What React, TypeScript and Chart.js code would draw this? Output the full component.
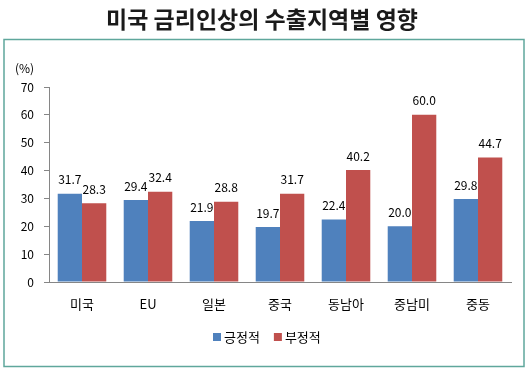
import React, { useEffect, useRef } from "react";
import { Chart, registerables } from "chart.js";

Chart.register(...registerables);

const title = "미국 금리인상의 수출지역별 영향";
const categories = ["미국", "EU", "일본", "중국", "동남아", "중남미", "중동"];
const positive = [31.7, 29.4, 21.9, 19.7, 22.4, 20.0, 29.8];
const negative = [28.3, 32.4, 28.8, 31.7, 40.2, 60.0, 44.7];
const seriesNames = ["긍정적", "부정적"];
const yTicks = [0, 10, 20, 30, 40, 50, 60, 70];
const unitLabel = "(%)";

const FONT = '"Noto Sans CJK KR", "Noto Sans", sans-serif';

const decorPlugin = {
  id: "decor",
  beforeDraw(chart: any) {
    const ctx = chart.ctx;
    ctx.save();
    ctx.fillStyle = "#ffffff";
    ctx.fillRect(0, 0, chart.width, chart.height);
    ctx.strokeStyle = "#5fa79c";
    ctx.lineWidth = 1.5;
    ctx.strokeRect(4, 39.5, 520, 327);
    ctx.fillStyle = "#1a1a1a";
    ctx.font = `bold 23px ${FONT}`;
    ctx.textAlign = "center";
    ctx.textBaseline = "middle";
    ctx.fillText(title, 262, 19);
    ctx.fillStyle = "#000000";
    ctx.font = `12px ${FONT}`;
    ctx.textAlign = "left";
    ctx.fillText(unitLabel, 15, 68);
    ctx.restore();
  },
  afterDraw(chart: any) {
    // legend
    const ctx = chart.ctx;
    ctx.save();
    ctx.font = `13px ${FONT}`;
    ctx.textAlign = "left";
    ctx.textBaseline = "middle";
    let x = 213;
    const y = 337;
    chart.data.datasets.forEach((ds: any) => {
      ctx.fillStyle = ds.backgroundColor;
      ctx.fillRect(x, y - 4, 8, 8);
      ctx.fillStyle = "#000000";
      ctx.fillText(ds.label, x + 11, y);
      x += 11 + ctx.measureText(ds.label).width + 14;
    });
    ctx.restore();
  },
  afterDatasetsDraw(chart: any) {
    const ctx = chart.ctx;
    ctx.save();
    ctx.fillStyle = "#000000";
    ctx.font = `12px ${FONT}`;
    ctx.textAlign = "center";
    ctx.textBaseline = "bottom";
    chart.data.datasets.forEach((ds: any, i: number) => {
      const meta = chart.getDatasetMeta(i);
      meta.data.forEach((bar: any, j: number) => {
        ctx.fillText(Number(ds.data[j]).toFixed(1), bar.x, bar.y - 8);
      });
    });
    ctx.restore();
  },
};

export default function App() {
  const ref = useRef<HTMLCanvasElement | null>(null);
  useEffect(() => {
    document.body.style.margin = "0";
    const canvas = ref.current!;
    const chart = new Chart(canvas, {
      type: "bar",
      data: {
        labels: categories,
        datasets: [
          { label: seriesNames[0], data: positive, backgroundColor: "#4f81bd" },
          { label: seriesNames[1], data: negative, backgroundColor: "#c0504d" },
        ],
      },
      options: {
        animation: false,
        responsive: false,
        devicePixelRatio: 1,
        layout: { padding: { top: 87, right: 16, left: 0, bottom: 54 } },
        datasets: { bar: { barPercentage: 1, categoryPercentage: 0.736 } },
        plugins: {
          legend: { display: false },
          tooltip: { enabled: false },
        },
        scales: {
          x: {
            grid: { display: false, drawTicks: false },
            border: { display: true, color: "#868686", width: 1 },
            ticks: { color: "#000", font: { family: FONT, size: 13 }, padding: 14 },
            afterFit: (s: any) => { s.height = 33; },
          },
          y: {
            min: 0,
            max: 70,
            afterBuildTicks: (s: any) => { s.ticks = yTicks.map((v) => ({ value: v })); },
            grid: { drawOnChartArea: false, tickLength: 5, color: "#868686" },
            border: { display: true, color: "#868686", width: 1 },
            ticks: { color: "#000", font: { family: FONT, size: 12 }, padding: 10 },
            afterFit: (s: any) => { s.width = 49; },
          },
        },
      },
      plugins: [decorPlugin],
    });
    return () => chart.destroy();
  }, []);
  return <canvas ref={ref} width={527} height={369} style={{ display: "block" }} />;
}
